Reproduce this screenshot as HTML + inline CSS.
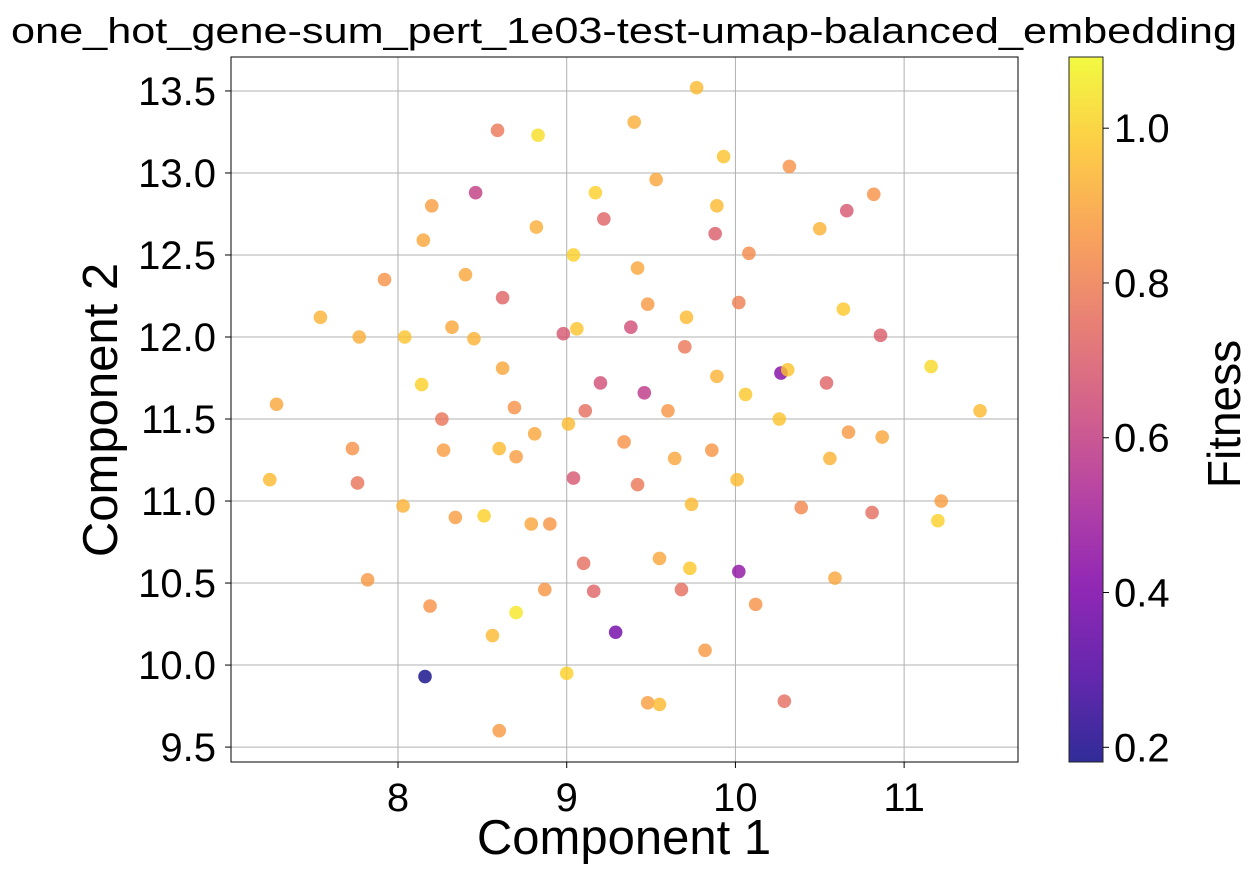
<!DOCTYPE html>
<html><head><meta charset="utf-8"><style>
body{margin:0;background:#fff;}
svg text{font-family:"Liberation Sans","DejaVu Sans",sans-serif;fill:#000;}
</style></head><body>
<svg id="chart" width="1249" height="872" xmlns="http://www.w3.org/2000/svg">
<defs><linearGradient id="plasma" x1="0" y1="1" x2="0" y2="0">
<stop offset="0" stop-color="#0d0887"/><stop offset="0.125" stop-color="#4c02a1"/><stop offset="0.25" stop-color="#7e03a8"/><stop offset="0.375" stop-color="#a92395"/><stop offset="0.5" stop-color="#cc4778"/><stop offset="0.625" stop-color="#e56b5d"/><stop offset="0.75" stop-color="#f89540"/><stop offset="0.875" stop-color="#fdc527"/><stop offset="1" stop-color="#f0f921"/>
</linearGradient></defs>
<g id="grid"></g>
<g id="points"></g>
<rect x="231" y="57" width="787" height="705" fill="none" stroke="#000" stroke-width="1"/>
<g id="xticks"></g>
<g id="yticks"></g>
<text x="624" y="43" font-size="36" text-anchor="middle" textLength="1226" lengthAdjust="spacingAndGlyphs">one_hot_gene-sum_pert_1e03-test-umap-balanced_embedding</text>
<text x="624" y="854" font-size="49" text-anchor="middle">Component 1</text>
<text x="0" y="0" font-size="49" text-anchor="middle" transform="translate(117,410) rotate(-90)">Component 2</text>
<rect x="1069" y="57" width="34" height="705" fill="url(#plasma)" opacity="0.85" stroke="#000" stroke-width="1"/>
<g id="cticks"></g>
<text x="0" y="0" font-size="46" text-anchor="middle" transform="translate(1240,414) rotate(-90)">Fitness</text>
</svg>
<script>
const xs=[9.77,8.59,8.83,9.40,9.93,10.32,8.46,9.17,9.53,10.82,8.20,9.89,9.22,10.66,8.15,8.82,9.88,10.50,9.04,10.08,7.92,9.42,8.40,8.62,9.48,10.02,10.64,7.54,8.32,8.98,9.06,9.38,9.71,10.86,7.77,8.04,8.45,9.70,8.62,10.27,10.31,11.16,8.14,9.20,9.46,9.89,10.54,7.28,8.26,8.69,9.11,9.60,10.06,10.26,11.45,9.01,9.34,10.67,10.87,7.73,8.27,8.81,8.60,8.70,9.64,9.86,10.56,7.24,7.76,9.04,9.42,10.01,8.03,8.34,8.51,8.79,8.90,9.74,10.39,10.81,11.22,11.20,9.10,9.55,9.73,10.02,7.82,10.59,8.87,9.16,9.68,8.19,8.70,10.12,9.29,8.56,9.82,8.16,9.00,9.48,9.55,10.29,8.60];
const ys=[13.52,13.26,13.23,13.31,13.10,13.04,12.88,12.88,12.96,12.87,12.80,12.80,12.72,12.77,12.59,12.67,12.63,12.66,12.50,12.51,12.35,12.42,12.38,12.24,12.20,12.21,12.17,12.12,12.06,12.02,12.05,12.06,12.12,12.01,12.00,12.00,11.99,11.94,11.81,11.78,11.80,11.82,11.71,11.72,11.66,11.76,11.72,11.59,11.50,11.57,11.55,11.55,11.65,11.50,11.55,11.47,11.36,11.42,11.39,11.32,11.31,11.41,11.32,11.27,11.26,11.31,11.26,11.13,11.11,11.14,11.10,11.13,10.97,10.90,10.91,10.86,10.86,10.98,10.96,10.93,11.00,10.88,10.62,10.65,10.59,10.57,10.52,10.53,10.46,10.45,10.46,10.36,10.32,10.37,10.20,10.18,10.09,9.93,9.95,9.77,9.76,9.78,9.60];
const fitness=[0.95,0.78,1.03,0.92,0.97,0.85,0.60,1.00,0.90,0.85,0.88,0.95,0.72,0.68,0.90,0.92,0.70,0.93,1.00,0.83,0.85,0.90,0.90,0.72,0.87,0.80,0.98,0.93,0.90,0.68,0.97,0.65,0.95,0.70,0.92,0.97,0.93,0.78,0.90,0.42,0.97,1.02,1.00,0.65,0.58,0.93,0.72,0.90,0.77,0.85,0.75,0.86,0.98,0.97,0.95,0.95,0.85,0.87,0.90,0.85,0.88,0.90,0.95,0.88,0.90,0.86,0.93,0.95,0.77,0.68,0.78,0.95,0.93,0.88,1.00,0.90,0.86,0.95,0.82,0.75,0.88,1.00,0.75,0.90,0.98,0.45,0.87,0.90,0.86,0.72,0.75,0.85,1.05,0.85,0.38,0.95,0.87,0.18,1.00,0.88,0.95,0.75,0.87];
const xTicks=[8,9,10,11];
const yTicks=[9.5,10.0,10.5,11.0,11.5,12.0,12.5,13.0,13.5];
const cTicks=[0.2,0.4,0.6,0.8,1.0];
const X0=231,X1=1018,Y0=57,Y1=762,xmin=7.01,xmax=11.675,ymin=9.409,ymax=13.707,cmin=0.181,cmax=1.092;
const sx=v=>X0+(v-xmin)/(xmax-xmin)*(X1-X0);
const sy=v=>Y1-(v-ymin)/(ymax-ymin)*(Y1-Y0);
const sc=v=>Y1-(v-cmin)/(cmax-cmin)*(Y1-Y0);
const stops=[[13,8,135],[76,2,161],[126,3,168],[169,35,149],[204,71,120],[229,107,93],[248,149,64],[253,197,39],[240,249,33]];
function plasma(v){let t=Math.max(0,Math.min(1,(v-cmin)/(cmax-cmin)))*8;let i=Math.min(7,Math.floor(t)),f=t-i;const a=stops[i],b=stops[i+1];return `rgb(${a.map((c,k)=>Math.round(c+(b[k]-c)*f)).join(',')})`;}
const NS="http://www.w3.org/2000/svg";
function mk(tag,attrs,parent){const e=document.createElementNS(NS,tag);for(const k in attrs)e.setAttribute(k,attrs[k]);parent.appendChild(e);return e;}
const grid=document.getElementById('grid'),xt=document.getElementById('xticks'),yt=document.getElementById('yticks'),ct=document.getElementById('cticks'),pts=document.getElementById('points');
xTicks.forEach(v=>{const x=sx(v);
const g=mk('line',{x1:x,x2:x,y1:Y0,y2:Y1,stroke:'#b0b0b0','stroke-width':1},grid);


mk('line',{x1:x,x2:x,y1:Y1,y2:Y1+6,stroke:'#000'},xt);
const t=mk('text',{x:x,y:Y1+49,'font-size':40,'text-anchor':'middle'},xt);t.textContent=v;

});
yTicks.forEach(v=>{const y=sy(v);
const g=mk('line',{x1:X0,x2:X1,y1:y,y2:y,stroke:'#b0b0b0','stroke-width':1},grid);


mk('line',{x1:X0-6,x2:X0,y1:y,y2:y,stroke:'#000'},yt);
const t=mk('text',{x:X0-15,y:y+14,'font-size':40,'text-anchor':'end'},yt);t.textContent=v.toFixed(1);

});
cTicks.forEach(v=>{const y=sc(v);
mk('line',{x1:1103,x2:1109,y1:y,y2:y,stroke:'#000'},ct);
const t=mk('text',{x:1114,y:y+14,'font-size':40},ct);t.textContent=v.toFixed(1);

});
xs.forEach((v,i)=>{const c=mk('circle',{cx:sx(v),cy:sy(ys[i]),r:6.8,fill:plasma(fitness[i]),'fill-opacity':0.8},pts);

});
</script>
</body></html>
